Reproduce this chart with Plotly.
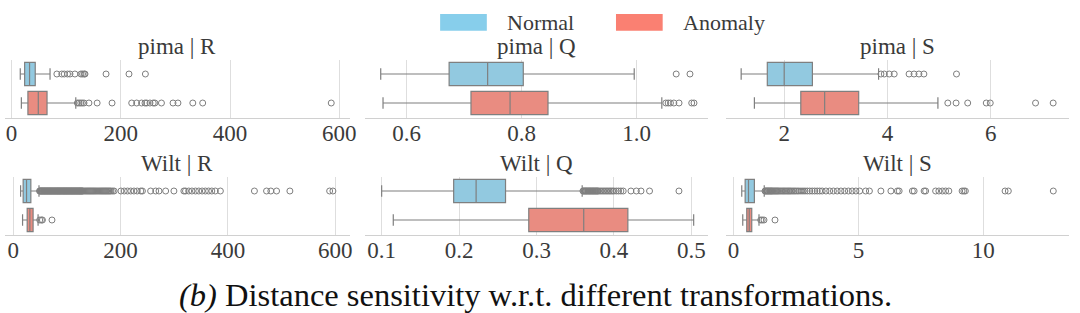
import plotly.graph_objects as go

W, H = 1080, 313

# ---------------- data ----------------
groups = ["Normal", "Anomaly"]
panel_titles = ["pima | R", "pima | Q", "pima | S", "Wilt | R", "Wilt | Q", "Wilt | S"]

# box statistics per panel: [lowerfence, q1, median, q3, upperfence] for Normal, Anomaly
pima_R_normal = [16, 24, 33, 43.4, 70.5]
pima_R_anomaly = [18, 30, 49, 65, 117.6]
pima_Q_normal = [0.555, 0.674, 0.741, 0.803, 0.996]
pima_Q_anomaly = [0.559, 0.712, 0.780, 0.846, 1.044]
pima_S_normal = [1.167, 1.673, 2.0, 2.546, 3.827]
pima_S_anomaly = [1.423, 2.321, 2.783, 3.442, 4.975]
wilt_R_normal = [13.7, 18.5, 24.8, 32.8, 48]
wilt_R_anomaly = [17.4, 26, 31, 37, 46.3]
wilt_Q_normal = [0.100, 0.193, 0.222, 0.260, 0.359]
wilt_Q_anomaly = [0.115, 0.290, 0.361, 0.418, 0.503]
wilt_S_normal = [0.33, 0.466, 0.60, 0.835, 1.23]
wilt_S_anomaly = [0.37, 0.53, 0.63, 0.73, 1.02]

# outliers
pima_R_normal_out = [83, 92, 96.5, 102.5, 107, 116, 127, 130, 133, 134.5, 173, 215, 245]
pima_R_anomaly_out = [120.5, 123.6, 126.7, 129.6, 132.7, 141.7, 156.7, 184, 220, 229, 238,
                      244.3, 247.3, 253.4, 259.4, 262.4, 274.4, 295.6, 304.6, 331.8, 349.9, 585.2]
pima_Q_normal_out = [1.069, 1.093]
pima_Q_anomaly_out = [1.051, 1.055, 1.059, 1.065, 1.074, 1.096, 1.100]
pima_S_normal_out = [3.873, 3.937, 4.033, 4.129, 4.417, 4.513, 4.608, 4.704, 5.335]
pima_S_anomaly_out = [5.167, 5.327, 5.552, 5.911, 5.988, 6.865, 7.206]
wilt_R_normal_out = [49, 50, 51, 52, 53, 54, 55, 56, 57, 58, 59, 60, 61, 62, 63, 64, 65, 66, 67, 68,
                     69, 70, 71, 72, 73, 74, 75, 76, 77, 78, 79, 80, 81, 82, 83, 84, 85, 86, 87, 88,
                     89, 90, 91, 92, 93, 94, 95, 96, 97, 98, 99, 100, 101, 102, 103, 104, 105, 106,
                     107, 108, 109, 110, 111, 112, 113, 114, 115, 116, 117, 118, 119, 120, 121, 122,
                     123, 124, 125, 126, 127, 128, 129, 130, 132, 134, 136, 138, 140, 142, 144, 146,
                     148, 150, 152, 154, 156, 158, 160, 162, 164, 166, 168, 170, 172, 174, 176, 178,
                     180, 182, 185, 188,
                     200.7, 206.8, 213, 219, 225, 231, 237.7, 240.7, 256, 265.5, 271.6, 284, 299.4,
                     318, 321, 327, 333, 339.6, 345.7, 352, 358, 364, 370, 376.6, 386, 449.4, 472,
                     480, 490.7, 515.5, 589.6, 595.7]
wilt_R_anomaly_out = [49.4, 52.6, 54.4, 72.2]
wilt_Q_normal_out = [0.360, 0.361, 0.362, 0.363, 0.364, 0.365, 0.366, 0.367, 0.368, 0.369, 0.370,
                     0.371, 0.372, 0.373, 0.374, 0.375, 0.376, 0.377, 0.378, 0.379, 0.380, 0.382,
                     0.384, 0.386, 0.388, 0.390, 0.392, 0.394, 0.396, 0.398, 0.400, 0.403, 0.406,
                     0.409, 0.412, 0.422, 0.429, 0.435, 0.446, 0.484]
wilt_Q_anomaly_out = []
wilt_S_normal_out = [1.26, 1.29, 1.32, 1.35, 1.38, 1.41, 1.44, 1.47, 1.5, 1.53, 1.56, 1.6, 1.64,
                     1.68, 1.72, 1.76, 1.8, 1.85, 1.9, 1.95, 2.0, 2.05, 2.1, 2.15, 2.2, 2.25, 2.3,
                     2.36, 2.42, 2.48, 2.55, 2.62, 2.7, 2.78, 2.86, 2.95, 3.05, 3.15, 3.25, 3.35,
                     3.45, 3.55, 3.7, 3.85, 4.0, 4.15, 4.3, 4.45, 4.6, 4.75, 4.9, 5.05,
                     5.29, 5.44, 5.9, 6.3, 6.56, 6.63, 7.16, 7.23, 7.63, 7.69, 8.09, 8.22, 8.36,
                     8.49, 8.62, 9.15, 9.22, 9.28, 10.87, 11.0, 12.8]
wilt_S_anomaly_out = [1.09, 1.15, 1.22, 1.66]

# axis ticks per panel
ticks_pima_R = [0, 200, 400, 600]
ticks_pima_Q = [0.6, 0.8, 1.0]
ticks_pima_S = [2, 4, 6]
ticks_wilt_R = [0, 200, 400, 600]
ticks_wilt_Q = [0.1, 0.2, 0.3, 0.4, 0.5]
ticks_wilt_S = [0, 5, 10]
ticktext_pima_Q = ["0.6", "0.8", "1.0"]

# ---------------- styling ----------------
FONT = "Liberation Serif"
TXT = "#3a3a3a"
BOX_FILL = {"Normal": "#92C9E0", "Anomaly": "#E98C81"}
LEG_FILL = {"Normal": "#87CEEB", "Anomaly": "#FA8072"}
LINE = "#7f7f7f"

panels = [
    (pima_R_normal, pima_R_anomaly, pima_R_normal_out, pima_R_anomaly_out, ticks_pima_R, None, [-12, 619]),
    (pima_Q_normal, pima_Q_anomaly, pima_Q_normal_out, pima_Q_anomaly_out, ticks_pima_Q, ticktext_pima_Q, [0.527, 1.125]),
    (pima_S_normal, pima_S_anomaly, pima_S_normal_out, pima_S_anomaly_out, ticks_pima_S, None, [0.869, 7.513]),
    (wilt_R_normal, wilt_R_anomaly, wilt_R_normal_out, wilt_R_anomaly_out, ticks_wilt_R, None, [-15.4, 627]),
    (wilt_Q_normal, wilt_Q_anomaly, wilt_Q_normal_out, wilt_Q_anomaly_out, ticks_wilt_Q, None, [0.078, 0.522]),
    (wilt_S_normal, wilt_S_anomaly, wilt_S_normal_out, wilt_S_anomaly_out, ticks_wilt_S, None, [-0.31, 13.43]),
]

# panel pixel extents
col_px = [(5, 352), (367, 713), (730.5, 1076)]
row_px = [(59.5, 117.5), (176.5, 234.5)]

fig = go.Figure()
annotations = []
for i, (sn, sa, on, oa, tv, tt, rng) in enumerate(panels):
    r, c = divmod(i, 3)
    k = i + 1
    xa = "x" if k == 1 else f"x{k}"
    ya = "y" if k == 1 else f"y{k}"
    for pos, (g, st, outs) in enumerate([("Normal", sn, on), ("Anomaly", sa, oa)]):
        fig.add_trace(go.Box(
            orientation="h", y=[pos], lowerfence=[st[0]], q1=[st[1]], median=[st[2]],
            q3=[st[3]], upperfence=[st[4]], width=0.8, whiskerwidth=0.5,
            fillcolor=BOX_FILL[g], line=dict(color=LINE, width=1.2),
            boxpoints=False, xaxis=xa, yaxis=ya, showlegend=False, name=g,
        ))
        if outs:
            fig.add_trace(go.Scatter(
                x=outs, y=[pos] * len(outs), mode="markers",
                marker=dict(symbol="circle-open", size=6, color=LINE, line=dict(width=1)),
                xaxis=xa, yaxis=ya, showlegend=False, hoverinfo="x",
            ))
    x0, x1 = col_px[c]
    y0, y1 = row_px[r]
    xkey = "xaxis" if k == 1 else f"xaxis{k}"
    ykey = "yaxis" if k == 1 else f"yaxis{k}"
    xd = dict(domain=[x0 / W, x1 / W], range=rng, anchor=ya, tickvals=tv,
              showline=True, linecolor="#d0d0d0", linewidth=1.2, showgrid=True,
              gridcolor="#dedede", gridwidth=1, zeroline=False, ticks="",
              ticklabelstandoff=-5,
              tickfont=dict(family=FONT, size=23, color=TXT), fixedrange=True)
    if tt:
        xd["ticktext"] = tt
    fig.layout[xkey] = xd
    fig.layout[ykey] = dict(domain=[1 - y1 / H, 1 - y0 / H], range=[1.5, -0.5], anchor=xa,
                            showticklabels=False, showgrid=False, zeroline=False,
                            showline=False, ticks="", fixedrange=True)
    annotations.append(dict(
        text=panel_titles[i], xref="paper", yref="paper", x=(x0 + x1) / 2 / W,
        y=1 - (y0 - 13) / H, xanchor="center", yanchor="middle", showarrow=False,
        font=dict(family=FONT, size=23, color=TXT)))

# legend (drawn manually)
shapes = []
leg_items = [("Normal", 443, 490, 508), ("Anomaly", 620, 667, 685)]
for g, a, b, tx in leg_items:
    shapes.append(dict(type="rect", xref="paper", yref="paper", x0=a / W, x1=b / W,
                       y0=1 - 30.7 / H, y1=1 - 14 / H, fillcolor=LEG_FILL[g],
                       line=dict(width=0)))
    annotations.append(dict(text=g, xref="paper", yref="paper", x=tx / W, y=1 - 22 / H,
                            xanchor="left", yanchor="middle", showarrow=False,
                            font=dict(family=FONT, size=22, color=TXT)))

# caption
annotations.append(dict(
    text="<i>(b)</i> Distance sensitivity w.r.t. different transformations.",
    xref="paper", yref="paper", x=539 / W, y=1 - 295 / H, xanchor="center", yanchor="middle",
    showarrow=False, font=dict(family=FONT, size=32.5, color="#111111")))

fig.update_layout(
    width=W, height=H, margin=dict(l=0, r=0, t=0, b=0),
    paper_bgcolor="white", plot_bgcolor="white",
    annotations=annotations, shapes=shapes, showlegend=False,
    font=dict(family=FONT),
)

fig.write_html("out.html", config={"displayModeBar": False})
